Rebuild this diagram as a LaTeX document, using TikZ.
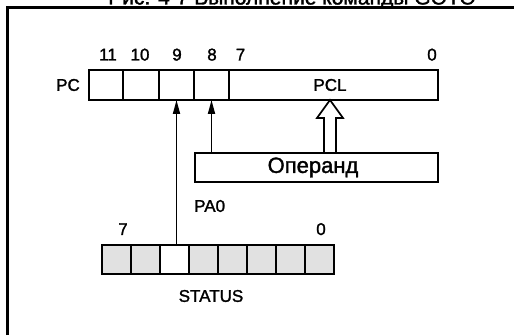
\documentclass[tikz,border=0pt]{standalone}
\usepackage{fontspec}
\setmainfont[FakeBold=1.5]{Liberation Sans}
\usepackage{tikz}
\usetikzlibrary{positioning,calc,arrows.meta}
\definecolor{BitGray}{RGB}{225,225,225}

\begin{document}
\begin{tikzpicture}[
    x=1pt,
    y=1pt,
    font=\fontsize{17}{20}\selectfont,
    >={Triangle[length=14pt,width=7pt]},
    cell/.style={
        draw,
        line width=1.7pt,
        inner sep=0pt,
        outer sep=0pt,
        minimum height=30pt
    },
    sbit/.style={
        cell,
        minimum width=29pt,
        minimum height=29pt,
        fill=BitGray
    },
    bitnum/.style={
        anchor=base,
        inner sep=0pt
    },
    arrow/.style={
        ->,
        line width=1.7pt
    },
    hollow/.style={
        draw,
        line width=1.7pt,
        fill=white,
        line join=miter
    },
    frame/.style={
        line width=3pt
    }
]

\useasboundingbox (0,0) rectangle (514,335);
\clip (0,0) rectangle (514,335);

\node[anchor=base, font=\fontsize{21}{24}\selectfont] (title) at (292,330.5)
    {Рис. 4-7 Выполнение команды GOTO};
\draw[frame] (7.5,0) -- (7.5,327.5) -- (516,327.5);

\node[cell, minimum width=34pt] (c11) at (106,250) {};
\node[cell, minimum width=36pt] (c10) at (141,250) {};
\node[cell, minimum width=35pt] (c9) at (176.5,250) {};
\node[cell, minimum width=35pt] (c8) at (211.5,250) {};
\node[cell, minimum width=209pt] (pcl) at (333.5,250) {\hspace*{-7pt}PCL};
\node[left=9pt of c11, inner sep=0pt] (pc) {PC};

\node[bitnum] (n11) at (108,274.5) {11};
\node[bitnum] (n10) at (140,274.5) {10};
\node[bitnum] (n9) at (177,274.5) {9};
\node[bitnum] (n8) at (212,274.5) {8};
\node[bitnum] (n7) at (240.5,274.5) {7};
\node[bitnum] (n0) at (432,274.5) {0};

\node[cell, minimum width=243pt, minimum height=29pt,
    font=\fontsize{22}{24}\selectfont] (op) at (316.5,167.5) {\hspace*{-7pt}Операнд};

\draw[arrow] (c8.south |- op.north) -- (c8.south);

\coordinate (tip) at ([xshift=-3.5pt]pcl.south);
\draw[hollow] (tip) -- ++(13,-18) -- ++(-7,0) -- ($(op.north -| tip)+(6,0)$)
    -- ($(op.north -| tip)+(-6,0)$) -- ++(0,35) -- ++(-7,0) -- cycle;

\node[anchor=west, inner sep=0pt] (pa0) at (194,129) {PA0};

\foreach \b in {0,...,7}{
    \node[sbit] (s\b) at ({116.5+29*(7-\b)},75.5) {};
}
\node[sbit, fill=white] (s5) at (174.5,75.5) {};

\draw[arrow] (c9.south |- s5.north) -- (c9.south);

\node[bitnum] (m7) at (123,100) {7};
\node[bitnum] (m0) at (321,100) {0};
\node (status) at (211,39) {STATUS};

\end{tikzpicture}
\end{document}
